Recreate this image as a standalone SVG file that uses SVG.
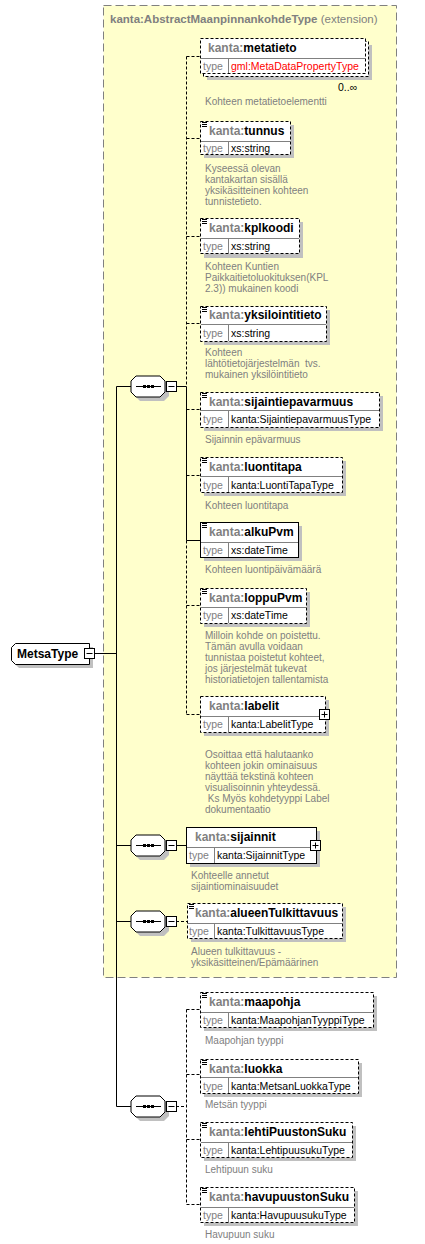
<svg xmlns="http://www.w3.org/2000/svg" width="425" height="1244" viewBox="0 0 425 1244">
<style>
text{font-family:"Liberation Sans",Arial,sans-serif}
.bx{fill:#fff;stroke:#000;stroke-width:1}
.dsh{stroke-dasharray:3 2}
.sh{fill:#c0c0c0}
.dv{stroke:#808080;stroke-width:1}
.ttl{font-size:12px;font-weight:bold;fill:#000}
.ns{fill:#808080}
.tp{font-size:10.5px;fill:#000}
.tl{font-size:10.5px;fill:#808080}
.ds{font-size:10px;fill:#808080}
.ln{stroke:#000;stroke-width:1;fill:none}
.ld{stroke:#000;stroke-width:1;fill:none;stroke-dasharray:3 2}
.ic{stroke:#000;stroke-width:1}
</style>
<defs>
<g id="seq">
<polygon points="5,0 29,0 34,5 34,16 29,21 5,21 0,16 0,5" transform="translate(4,4)" class="sh"/>
<polygon points="5,0 29,0 34,5 34,16 29,21 5,21 0,16 0,5" class="bx"/>
<line x1="5" y1="10.5" x2="30" y2="10.5" class="ic"/>
<rect x="12" y="9" width="3" height="3" fill="#000"/>
<rect x="16" y="9" width="3" height="3" fill="#000"/>
<rect x="20" y="9" width="3" height="3" fill="#000"/>
<rect x="35.5" y="5.5" width="10" height="10" class="bx"/>
<line x1="37.5" y1="10.5" x2="43.5" y2="10.5" class="ic"/>
</g>
<g id="doc">
<line x1="0" y1="0.5" x2="5" y2="0.5" class="ic"/>
<line x1="0" y1="2.5" x2="5" y2="2.5" class="ic"/>
<line x1="0" y1="4.5" x2="5" y2="4.5" class="ic"/>
</g>
<g id="plus">
<rect x="0.5" y="0.5" width="10" height="10" class="bx"/>
<line x1="2.5" y1="5.5" x2="8.5" y2="5.5" class="ic"/>
<line x1="5.5" y1="2.5" x2="5.5" y2="8.5" class="ic"/>
</g>
</defs>

<g id="extension">
<rect x="103.5" y="5.5" width="293" height="972" fill="#ffffcc" stroke="#808080" stroke-dasharray="8 4"/>
<text x="110" y="23" style="font-size:11.5px;fill:#808080"><tspan font-weight="bold">kanta:AbstractMaanpinnankohdeType</tspan> (extension)</text>
</g>

<g id="connectors">
<line x1="94" y1="653.5" x2="116.5" y2="653.5" class="ln"/>
<line x1="116.5" y1="386.5" x2="116.5" y2="1106.5" class="ln"/>
<line x1="116.5" y1="386.5" x2="131" y2="386.5" class="ln"/>
<line x1="116.5" y1="845.5" x2="131" y2="845.5" class="ln"/>
<line x1="116.5" y1="921.5" x2="131" y2="921.5" class="ln"/>
<line x1="116.5" y1="1106.5" x2="131" y2="1106.5" class="ln"/>
<line x1="176" y1="386.5" x2="186.5" y2="386.5" class="ln"/>
<line x1="186.5" y1="56.5" x2="186.5" y2="386.5" class="ld"/>
<line x1="186.5" y1="386.5" x2="186.5" y2="540.5" class="ln"/>
<line x1="186.5" y1="540.5" x2="186.5" y2="714.5" class="ld"/>
<line x1="186.5" y1="56.5" x2="200" y2="56.5" class="ld"/>
<line x1="186.5" y1="138.5" x2="200" y2="138.5" class="ld"/>
<line x1="186.5" y1="236.5" x2="200" y2="236.5" class="ld"/>
<line x1="186.5" y1="323.5" x2="200" y2="323.5" class="ld"/>
<line x1="186.5" y1="409.5" x2="200" y2="409.5" class="ld"/>
<line x1="186.5" y1="475.5" x2="200" y2="475.5" class="ld"/>
<line x1="186.5" y1="540.5" x2="200" y2="540.5" class="ln"/>
<line x1="186.5" y1="605.5" x2="200" y2="605.5" class="ld"/>
<line x1="186.5" y1="714.5" x2="200" y2="714.5" class="ld"/>
<line x1="176" y1="845.5" x2="186" y2="845.5" class="ln"/>
<line x1="176" y1="921.5" x2="187" y2="921.5" class="ld"/>
<line x1="176" y1="1106.5" x2="186.5" y2="1106.5" class="ld"/>
<line x1="186.5" y1="1009.5" x2="186.5" y2="1204.5" class="ld"/>
<line x1="186.5" y1="1009.5" x2="200" y2="1009.5" class="ld"/>
<line x1="186.5" y1="1074.5" x2="200" y2="1074.5" class="ld"/>
<line x1="186.5" y1="1139.5" x2="200" y2="1139.5" class="ld"/>
<line x1="186.5" y1="1204.5" x2="200" y2="1204.5" class="ld"/>
</g>

<g id="MetsaType">
<polygon points="19,647 93,647 93,668 19,668 15,664 15,651" class="sh"/>
<polygon points="15.5,643.5 89.5,643.5 89.5,664.5 15.5,664.5 11.5,660.5 11.5,647.5" class="bx"/>
<text x="17" y="658" class="ttl">MetsaType</text>
<rect x="84.5" y="648.5" width="10" height="10" class="bx"/>
<line x1="86.5" y1="653.5" x2="92.5" y2="653.5" class="ic"/>
</g>

<g id="seq1"><use href="#seq" x="131" y="376"/></g>
<g id="seq2"><use href="#seq" x="131" y="835"/></g>
<g id="seq3"><use href="#seq" x="131" y="911"/></g>
<g id="seq4"><use href="#seq" x="131" y="1096"/></g>

<g id="metatieto">
<rect x="207" y="45" width="165" height="35" class="sh"/>
<rect x="203.5" y="41.5" width="165" height="35" class="bx dsh"/>
<rect x="200.5" y="38.5" width="165" height="35" class="bx dsh"/>
<line x1="201" y1="58.5" x2="365" y2="58.5" class="dv"/>
<line x1="228.5" y1="59" x2="228.5" y2="73" class="dv"/>
<text x="208" y="52" class="ttl"><tspan class="ns">kanta:</tspan>metatieto</text>
<text x="203" y="70" class="tl">type</text>
<text x="231" y="70" class="tp" style="fill:#ff0000">gml:MetaDataPropertyType</text>
<text x="338" y="91" class="tp">0..∞</text>
<text x="205" y="105" class="ds">Kohteen metatietoelementti</text>
</g>

<g id="tunnus">
<rect x="204" y="125" width="90" height="33" class="sh"/>
<rect x="200.5" y="121.5" width="90" height="33" class="bx dsh"/>
<line x1="201" y1="141.5" x2="290" y2="141.5" class="dv"/>
<line x1="228.5" y1="142" x2="228.5" y2="154" class="dv"/>
<use href="#doc" x="202" y="122"/>
<text x="209" y="135" class="ttl"><tspan class="ns">kanta:</tspan>tunnus</text>
<text x="203" y="152" class="tl">type</text>
<text x="231" y="152" class="tp">xs:string</text>
<text class="ds"><tspan x="205" y="172">Kyseessä olevan</tspan><tspan x="205" y="183">kantakartan sisällä</tspan><tspan x="205" y="194">yksikäsitteinen kohteen</tspan><tspan x="205" y="205">tunnistetieto.</tspan></text>
</g>

<g id="kplkoodi">
<rect x="204" y="222" width="99" height="36" class="sh"/>
<rect x="200.5" y="218.5" width="99" height="35" class="bx dsh"/>
<line x1="201" y1="238.5" x2="299" y2="238.5" class="dv"/>
<line x1="228.5" y1="239" x2="228.5" y2="253" class="dv"/>
<use href="#doc" x="202" y="219"/>
<text x="209" y="232" class="ttl"><tspan class="ns">kanta:</tspan>kplkoodi</text>
<text x="203" y="250" class="tl">type</text>
<text x="231" y="250" class="tp">xs:string</text>
<text class="ds"><tspan x="205" y="270">Kohteen Kuntien</tspan><tspan x="205" y="281">Paikkaitietoluokituksen(KPL</tspan><tspan x="205" y="292">2.3)) mukainen koodi</tspan></text>
</g>

<g id="yksilointitieto">
<rect x="204" y="310" width="126" height="35" class="sh"/>
<rect x="200.5" y="306.5" width="126" height="35" class="bx dsh"/>
<line x1="201" y1="324.5" x2="326" y2="324.5" class="dv"/>
<line x1="228.5" y1="325" x2="228.5" y2="341" class="dv"/>
<use href="#doc" x="202" y="307"/>
<text x="209" y="319" class="ttl"><tspan class="ns">kanta:</tspan>yksilointitieto</text>
<text x="203" y="337" class="tl">type</text>
<text x="231" y="337" class="tp">xs:string</text>
<text class="ds" xml:space="preserve"><tspan x="205" y="356">Kohteen</tspan><tspan x="205" y="367">lähtötietojärjestelmän  tvs.</tspan><tspan x="205" y="378">mukainen yksilöintitieto</tspan></text>
</g>

<g id="sijaintiepavarmuus">
<rect x="204" y="396" width="179" height="35" class="sh"/>
<rect x="200.5" y="392.5" width="179" height="35" class="bx dsh"/>
<line x1="201" y1="410.5" x2="379" y2="410.5" class="dv"/>
<line x1="228.5" y1="411" x2="228.5" y2="427" class="dv"/>
<use href="#doc" x="202" y="393"/>
<text x="209" y="406" class="ttl"><tspan class="ns">kanta:</tspan>sijaintiepavarmuus</text>
<text x="203" y="423" class="tl">type</text>
<text x="231" y="423" class="tp">kanta:SijaintiepavarmuusType</text>
<text x="205" y="443" class="ds">Sijainnin epävarmuus</text>
</g>

<g id="luontitapa">
<rect x="204" y="461" width="142" height="35" class="sh"/>
<rect x="200.5" y="457.5" width="142" height="35" class="bx dsh"/>
<line x1="201" y1="476.5" x2="342" y2="476.5" class="dv"/>
<line x1="228.5" y1="477" x2="228.5" y2="492" class="dv"/>
<use href="#doc" x="202" y="458"/>
<text x="209" y="471" class="ttl"><tspan class="ns">kanta:</tspan>luontitapa</text>
<text x="203" y="489" class="tl">type</text>
<text x="231" y="489" class="tp">kanta:LuontiTapaType</text>
<text x="205" y="509" class="ds">Kohteen luontitapa</text>
</g>

<g id="alkuPvm">
<rect x="204" y="526" width="98" height="35" class="sh"/>
<rect x="200.5" y="522.5" width="98" height="35" class="bx"/>
<line x1="201" y1="542.5" x2="298" y2="542.5" class="dv"/>
<line x1="228.5" y1="543" x2="228.5" y2="557" class="dv"/>
<use href="#doc" x="202" y="523"/>
<text x="209" y="536" class="ttl"><tspan class="ns">kanta:</tspan>alkuPvm</text>
<text x="203" y="554" class="tl">type</text>
<text x="231" y="554" class="tp">xs:dateTime</text>
<text x="205" y="573" class="ds">Kohteen luontipäivämäärä</text>
</g>

<g id="loppuPvm">
<rect x="204" y="592" width="106" height="35" class="sh"/>
<rect x="200.5" y="588.5" width="106" height="35" class="bx dsh"/>
<line x1="201" y1="607.5" x2="306" y2="607.5" class="dv"/>
<line x1="228.5" y1="608" x2="228.5" y2="623" class="dv"/>
<use href="#doc" x="202" y="589"/>
<text x="209" y="602" class="ttl"><tspan class="ns">kanta:</tspan>loppuPvm</text>
<text x="203" y="619" class="tl">type</text>
<text x="231" y="619" class="tp">xs:dateTime</text>
<text class="ds"><tspan x="205" y="639">Milloin kohde on poistettu.</tspan><tspan x="205" y="650">Tämän avulla voidaan</tspan><tspan x="205" y="661">tunnistaa poistetut kohteet,</tspan><tspan x="205" y="672">jos järjestelmät tukevat</tspan><tspan x="205" y="683">historiatietojen tallentamista</tspan></text>
</g>

<g id="labelit">
<rect x="204" y="700" width="125" height="36" class="sh"/>
<rect x="200.5" y="696.5" width="125" height="36" class="bx dsh"/>
<line x1="201" y1="716.5" x2="325" y2="716.5" class="dv"/>
<line x1="228.5" y1="717" x2="228.5" y2="732" class="dv"/>
<text x="209" y="710" class="ttl"><tspan class="ns">kanta:</tspan>labelit</text>
<text x="203" y="728" class="tl">type</text>
<text x="231" y="728" class="tp">kanta:LabelitType</text>
<use href="#plus" x="319" y="709"/>
<text class="ds" xml:space="preserve"><tspan x="205" y="758">Osoittaa että halutaanko</tspan><tspan x="205" y="769">kohteen jokin ominaisuus</tspan><tspan x="205" y="780">näyttää tekstinä kohteen</tspan><tspan x="205" y="791">visualisoinnin yhteydessä.</tspan><tspan x="205" y="802"> Ks Myös kohdetyyppi Label</tspan><tspan x="205" y="813">dokumentaatio</tspan></text>
</g>

<g id="sijainnit">
<rect x="190" y="831" width="130" height="36" class="sh"/>
<rect x="186.5" y="827.5" width="130" height="36" class="bx"/>
<line x1="187" y1="847.5" x2="316" y2="847.5" class="dv"/>
<line x1="214.5" y1="848" x2="214.5" y2="863" class="dv"/>
<text x="195" y="841" class="ttl"><tspan class="ns">kanta:</tspan>sijainnit</text>
<text x="189" y="859" class="tl">type</text>
<text x="217" y="859" class="tp">kanta:SijainnitType</text>
<use href="#plus" x="310" y="840"/>
<text class="ds"><tspan x="191" y="879">Kohteelle annetut</tspan><tspan x="191" y="890">sijaintiominaisuudet</tspan></text>
</g>

<g id="alueenTulkittavuus">
<rect x="191" y="907" width="155" height="35" class="sh"/>
<rect x="187.5" y="903.5" width="155" height="35" class="bx dsh"/>
<line x1="188" y1="923.5" x2="342" y2="923.5" class="dv"/>
<line x1="214.5" y1="924" x2="214.5" y2="938" class="dv"/>
<use href="#doc" x="189" y="904"/>
<text x="195" y="917" class="ttl"><tspan class="ns">kanta:</tspan>alueenTulkittavuus</text>
<text x="189" y="935" class="tl">type</text>
<text x="217" y="935" class="tp">kanta:TulkittavuusType</text>
<text class="ds"><tspan x="191" y="955">Alueen tulkittavuus -</tspan><tspan x="191" y="966">yksikäsitteinen/Epämäärinen</tspan></text>
</g>

<g id="maapohja">
<rect x="204" y="996" width="173" height="35" class="sh"/>
<rect x="200.5" y="992.5" width="173" height="35" class="bx dsh"/>
<line x1="201" y1="1012.5" x2="373" y2="1012.5" class="dv"/>
<line x1="228.5" y1="1013" x2="228.5" y2="1027" class="dv"/>
<use href="#doc" x="202" y="993"/>
<text x="209" y="1006" class="ttl"><tspan class="ns">kanta:</tspan>maapohja</text>
<text x="203" y="1024" class="tl">type</text>
<text x="231" y="1024" class="tp">kanta:MaapohjanTyyppiType</text>
<text x="205" y="1044" class="ds">Maapohjan tyyppi</text>
</g>

<g id="luokka">
<rect x="204" y="1063" width="158" height="34" class="sh"/>
<rect x="200.5" y="1059.5" width="158" height="34" class="bx dsh"/>
<line x1="201" y1="1077.5" x2="358" y2="1077.5" class="dv"/>
<line x1="228.5" y1="1078" x2="228.5" y2="1093" class="dv"/>
<use href="#doc" x="202" y="1060"/>
<text x="209" y="1073" class="ttl"><tspan class="ns">kanta:</tspan>luokka</text>
<text x="203" y="1090" class="tl">type</text>
<text x="231" y="1090" class="tp">kanta:MetsanLuokkaType</text>
<text x="205" y="1108" class="ds">Metsän tyyppi</text>
</g>

<g id="lehtiPuustonSuku">
<rect x="204" y="1126" width="152" height="35" class="sh"/>
<rect x="200.5" y="1122.5" width="152" height="35" class="bx dsh"/>
<line x1="201" y1="1142.5" x2="352" y2="1142.5" class="dv"/>
<line x1="228.5" y1="1143" x2="228.5" y2="1157" class="dv"/>
<use href="#doc" x="202" y="1123"/>
<text x="209" y="1136" class="ttl"><tspan class="ns">kanta:</tspan>lehtiPuustonSuku</text>
<text x="203" y="1154" class="tl">type</text>
<text x="231" y="1154" class="tp">kanta:LehtipuusukuType</text>
<text x="205" y="1173" class="ds">Lehtipuun suku</text>
</g>

<g id="havupuustonSuku">
<rect x="204" y="1191" width="154" height="35" class="sh"/>
<rect x="200.5" y="1187.5" width="154" height="35" class="bx dsh"/>
<line x1="201" y1="1207.5" x2="354" y2="1207.5" class="dv"/>
<line x1="228.5" y1="1208" x2="228.5" y2="1222" class="dv"/>
<use href="#doc" x="202" y="1188"/>
<text x="209" y="1201" class="ttl"><tspan class="ns">kanta:</tspan>havupuustonSuku</text>
<text x="203" y="1219" class="tl">type</text>
<text x="231" y="1219" class="tp">kanta:HavupuusukuType</text>
<text x="205" y="1238" class="ds">Havupuun suku</text>
</g>
</svg>
